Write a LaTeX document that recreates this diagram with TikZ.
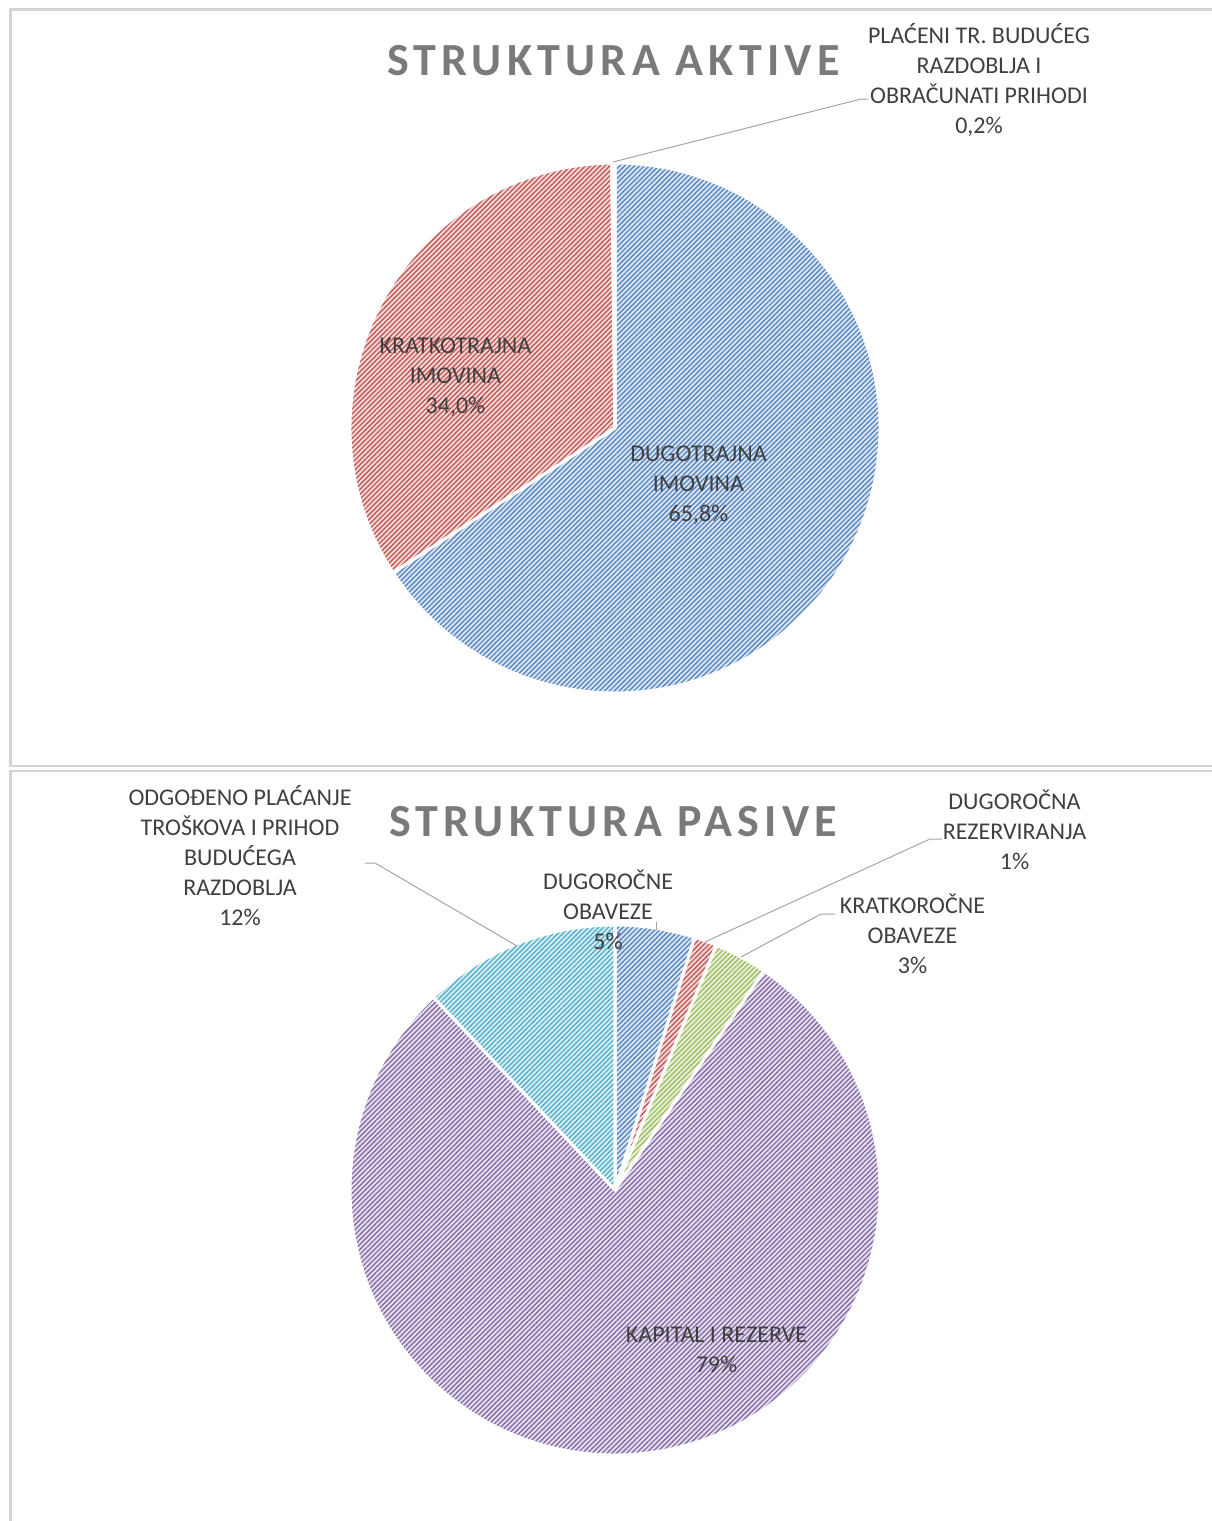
\documentclass[tikz,border=0pt]{standalone}
\usepackage{fontspec}
\setmainfont{Carlito}
\newfontfamily\titlefont[LetterSpace=11.5]{Carlito}
\usetikzlibrary{patterns.meta}
\definecolor{cblue}{HTML}{4F81BD}
\definecolor{cbluebg}{HTML}{D6E1F1}
\definecolor{cred}{HTML}{C0504D}
\definecolor{credbg}{HTML}{F1D5D4}
\definecolor{cgreen}{HTML}{9BBB59}
\definecolor{cgreenbg}{HTML}{E5EED6}
\definecolor{cpurple}{HTML}{8064A2}
\definecolor{cpurplebg}{HTML}{E2DBEB}
\definecolor{caqua}{HTML}{4BACC6}
\definecolor{caquabg}{HTML}{D4EBF2}
\definecolor{lbl}{HTML}{404040}
\definecolor{ttl}{HTML}{7A7A7A}
\definecolor{framec}{HTML}{D4D4D4}
\definecolor{leaderc}{HTML}{A6A6A6}
\newcommand\pieslice[4]{% start, end, fg, bg
  \fill[#4] (0,0) -- (#1:265) arc[start angle=#1, end angle=#2, radius=265] -- cycle;
  \fill[pattern={Lines[angle=45,distance=2.6pt,line width=0.9pt]}, pattern color=#3]
    (0,0) -- (#1:265) arc[start angle=#1, end angle=#2, radius=265] -- cycle;}
\newcommand\slicerim[2]{%
  \draw[white, line width=2.25pt, line join=round]
    (0,0) -- (#1:265) arc[start angle=#1, end angle=#2, radius=265] -- cycle;}
\tikzset{
  lbltext/.style={text=lbl, align=center, inner sep=0pt, font=\fontsize{18}{22.5}\selectfont},
  ttltext/.style={text=ttl, inner sep=0pt, font=\titlefont\bfseries\fontsize{34.5}{40}\selectfont},
  framel/.style={draw=framec, line width=1.9pt},
  leader/.style={draw=leaderc, line width=0.75pt}
}
\begin{document}
\begin{tikzpicture}[x=0.75pt,y=-0.75pt]
\useasboundingbox (0,0) rectangle (1211,1521);
\fill[white] (0,0) rectangle (1211,1521);
% frames
\draw[framel] (1215,9.5) -- (10.5,9.5) -- (10.5,766) -- (1215,766);
\draw[framel] (1215,771) -- (10.5,771) -- (10.5,1525);

% ---------- top chart ----------
\node[ttltext] (t1) at (613.5,61) {STRUKTURA AKTIVE};
\begin{scope}[shift={(615,428)}, x=0.75pt, y=0.75pt]
  \pieslice{90}{-146.9}{cblue}{cbluebg}
  \pieslice{213.1}{90.72}{cred}{credbg}
  \pieslice{90.72}{90}{cgreen}{cgreenbg}
  \slicerim{90}{-146.9}
  \slicerim{213.1}{90.72}
  \slicerim{90.72}{90}
\end{scope}
\node[lbltext] (ldug) at (698.5,485) {DUGOTRAJNA\\IMOVINA\\65,8\%};
\node[lbltext] (lkrat) at (455.5,377) {KRATKOTRAJNA\\IMOVINA\\34,0\%};
\node[lbltext] (lplac) at (979,80) {PLAĆENI TR. BUDUĆEG\\RAZDOBLJA I\\OBRAČUNATI PRIHODI\\0,2\%};
\coordinate (a1) at (613,162);
\coordinate (a2) at (861,99);
\coordinate (a3) at (868,99);
\draw[leader] (a1) -- (a2) -- (a3);

% ---------- bottom chart ----------
\node[ttltext] (t2) at (613,822) {STRUKTURA PASIVE};
\begin{scope}[shift={(615,1190)}, x=0.75pt, y=0.75pt]
  \pieslice{90}{72.5}{cblue}{cbluebg}
  \pieslice{72.5}{67.5}{cred}{credbg}
  \pieslice{67.5}{55.8}{cgreen}{cgreenbg}
  \pieslice{55.8}{-226.7}{cpurple}{cpurplebg}
  \pieslice{133.3}{90}{caqua}{caquabg}
  \slicerim{90}{72.5}
  \slicerim{72.5}{67.5}
  \slicerim{67.5}{55.8}
  \slicerim{55.8}{-226.7}
  \slicerim{133.3}{90}
\end{scope}
\node[lbltext] (lodg) at (240,856) {ODGOĐENO PLAĆANJE\\TROŠKOVA I PRIHOD\\BUDUĆEGA\\RAZDOBLJA\\12\%};
\node[lbltext] (ldob) at (608,910) {DUGOROČNE\\OBAVEZE\\5\%};
\node[lbltext] (ldrez) at (1014.5,830) {DUGOROČNA\\REZERVIRANJA\\1\%};
\node[lbltext] (lkob) at (912.5,934) {KRATKOROČNE\\OBAVEZE\\3\%};
\node[lbltext] (lkap) at (716.5,1350) {KAPITAL I REZERVE\\79\%};
\coordinate (b1) at (517,946);
\coordinate (b2) at (375,863);
\coordinate (b3) at (365,863);
\draw[leader] (b1) -- (b2) -- (b3);
\coordinate (c1) at (656,930);
\coordinate (c2) at (656,922);
\draw[leader] (c1) -- (c2);
\coordinate (d1) at (705,942);
\coordinate (d2) at (930,839);
\coordinate (d3) at (942,839);
\draw[leader] (d1) -- (d2) -- (d3);
\coordinate (e1) at (741,957);
\coordinate (e2) at (821,914);
\coordinate (e3) at (835,914);
\draw[leader] (e1) -- (e2) -- (e3);
\end{tikzpicture}
\end{document}
